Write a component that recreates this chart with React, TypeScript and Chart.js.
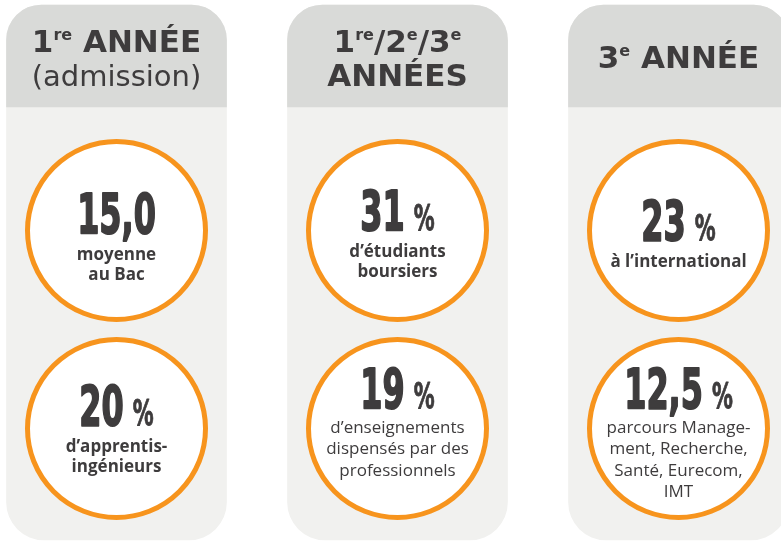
import React, { useEffect, useRef } from "react";
import { Chart, registerables } from "chart.js";

Chart.register(...registerables);

// ---- data ----
type Seg = { t: string; sup?: boolean; light?: boolean };
const columnTitles: Seg[][][] = [
  [[{ t: "1" }, { t: "re", sup: true }, { t: " ANNÉE" }], [{ t: "(admission)", light: true }]],
  [
    [{ t: "1" }, { t: "re", sup: true }, { t: "/2" }, { t: "e", sup: true }, { t: "/3" }, { t: "e", sup: true }],
    [{ t: "ANNÉES" }],
  ],
  [[{ t: "3" }, { t: "e", sup: true }, { t: " ANNÉE" }]],
];
const columnIndex = [0, 1, 2];

const statValues = [15.0, 20, 31, 19, 23, 12.5];
const statDecimals = [1, 0, 0, 0, 0, 1];
const statUnits = ["", "%", "%", "%", "%", "%"];
const statColumn = [0, 0, 1, 1, 2, 2];
const statRow = [0, 1, 0, 1, 0, 1];
const statCaptions = [
  ["moyenne", "au Bac"],
  ["d’apprentis-", "ingénieurs"],
  ["d’étudiants", "boursiers"],
  ["d’enseignements", "dispensés par des", "professionnels"],
  ["à l’international"],
  ["parcours Manage-", "ment, Recherche,", "Santé, Eurecom,", "IMT"],
];
const captionBold = [true, true, true, false, true, false];

// ---- layout / style (row & column units) ----
const PANEL_TOP = -1.139;
const PANEL_BOTTOM = 1.563;
const HEADER_BOTTOM = -0.624;
const X_MIN = -0.4146;
const X_MAX = 2.3648;
const Y_MIN = -1.1641;
const Y_MAX = 1.5682;
const numberNudge = [2.5, -3.5, -0.5, -10.5, 0, -0.5];

const TEXT = "#3e3c3d";
const ORANGE = "#f7941d";
const BODY = "#f1f1ef";
const HEAD = "#d9dad8";

function segFont(s: Seg) {
  if (s.sup) return "bold 16px 'DejaVu Sans'";
  if (s.light) return "29px 'DejaVu Sans'";
  return "bold 31px 'DejaVu Sans'";
}

function drawRichLine(ctx: CanvasRenderingContext2D, segs: Seg[], cx: number, baseline: number) {
  let total = 0;
  const widths = segs.map((s) => {
    ctx.font = segFont(s);
    const w = ctx.measureText(s.t).width;
    total += w;
    return w;
  });
  let x = cx - total / 2;
  segs.forEach((s, i) => {
    ctx.font = segFont(s);
    ctx.fillText(s.t, x, s.sup ? baseline - 12 : baseline);
    x += widths[i];
  });
}

const NUM_FONT = "bold 55px 'DejaVu Sans'";
const PCT_FONT = "bold 36px 'DejaVu Sans'";
const SX = 0.58;

const textPlugin = {
  id: "infoText",
  afterDatasetsDraw(chart: any) {
    const ctx: CanvasRenderingContext2D = chart.ctx;
    ctx.save();
    ctx.fillStyle = TEXT;
    ctx.strokeStyle = TEXT;
    ctx.lineJoin = "round";
    ctx.textAlign = "left";
    ctx.textBaseline = "alphabetic";

    const headerMeta = chart.getDatasetMeta(1);
    headerMeta.data.forEach((el: any, i: number) => {
      const { x, y, base } = el.getProps(["x", "y", "base"], true);
      const top = Math.min(y, base);
      const bottom = Math.max(y, base);
      const cy = (top + bottom) / 2;
      const lines = columnTitles[i];
      const baselines = lines.length === 1 ? [cy + 12] : [cy - 4, cy + 30];
      lines.forEach((segs, li) => drawRichLine(ctx, segs, x, baselines[li]));
    });

    const circleMeta = chart.getDatasetMeta(2);
    circleMeta.data.forEach((pt: any, i: number) => {
      const { x: cx, y: cy } = pt.getProps(["x", "y"], true);
      const caps = statCaptions[i];
      const n = caps.length;
      const numBase = cy + 10 - 10 * (n - 1) + numberNudge[i];
      const numStr = statValues[i].toFixed(statDecimals[i]).replace(".", ",");
      ctx.font = NUM_FONT;
      const wn = ctx.measureText(numStr).width * SX;
      let wp = 0;
      const gap = 9;
      if (statUnits[i]) {
        ctx.font = PCT_FONT;
        wp = ctx.measureText(statUnits[i]).width * SX;
      }
      const total = wn + (statUnits[i] ? gap + wp : 0);
      const sx = cx - total / 2;
      ctx.save();
      ctx.translate(sx, numBase);
      ctx.scale(SX, 1);
      ctx.font = NUM_FONT;
      ctx.lineWidth = 2;
      ctx.fillText(numStr, 0, 0);
      ctx.strokeText(numStr, 0, 0);
      ctx.restore();
      if (statUnits[i]) {
        ctx.save();
        ctx.translate(sx + wn + gap, numBase);
        ctx.scale(SX, 1);
        ctx.font = PCT_FONT;
        ctx.lineWidth = 1;
        ctx.fillText(statUnits[i], 0, 0);
        ctx.strokeText(statUnits[i], 0, 0);
        ctx.restore();
      }
      const bold = captionBold[i];
      ctx.font = bold ? "bold 17px 'Open Sans'" : "17px 'Open Sans'";
      ctx.textAlign = "center";
      const first = numBase + (bold ? 27 : 25);
      const step = bold ? 20 : 21.5;
      caps.forEach((line, li) => ctx.fillText(line, cx, first + li * step));
      ctx.textAlign = "left";
    });
    ctx.restore();
  },
};

export default function App() {
  const ref = useRef<HTMLCanvasElement>(null);
  useEffect(() => {
    if (!ref.current) return;
    const chart = new Chart(ref.current, {
      type: "bar",
      data: {
        datasets: [
          {
            type: "bar",
            label: "panels",
            data: columnIndex.map((c) => ({ x: c, y: [PANEL_TOP, PANEL_BOTTOM] })) as any,
            backgroundColor: BODY,
            borderWidth: 0,
            borderSkipped: false,
            borderRadius: { topLeft: 35, topRight: 35, bottomLeft: 38, bottomRight: 38 },
            barThickness: 220,
            grouped: false,
            order: 3,
          } as any,
          {
            type: "bar",
            label: "headers",
            data: columnIndex.map((c) => ({ x: c, y: [PANEL_TOP, HEADER_BOTTOM] })) as any,
            backgroundColor: HEAD,
            borderWidth: 0,
            borderSkipped: false,
            borderRadius: { topLeft: 35, topRight: 35, bottomLeft: 0, bottomRight: 0 },
            barThickness: 220,
            grouped: false,
            order: 2,
          } as any,
          {
            type: "scatter",
            label: "stats",
            data: statValues.map((_, i) => ({ x: statColumn[i], y: statRow[i] })),
            pointRadius: 89,
            pointHoverRadius: 89,
            pointBorderWidth: 5,
            pointHoverBorderWidth: 5,
            pointBackgroundColor: "#ffffff",
            pointBorderColor: ORANGE,
            pointStyle: "circle",
            showLine: false,
            clip: false,
            order: 1,
          } as any,
        ],
      },
      options: {
        animation: false,
        responsive: false,
        events: [],
        layout: { padding: 0, autoPadding: false },
        plugins: { legend: { display: false }, tooltip: { enabled: false } },
        scales: {
          x: { type: "linear", min: X_MIN, max: X_MAX, display: false, offset: false },
          y: { type: "linear", min: Y_MIN, max: Y_MAX, reverse: true, display: false },
        },
      },
      plugins: [textPlugin],
    });
    return () => chart.destroy();
  }, []);
  return (
    <div style={{ position: "absolute", left: 0, top: 0, width: 781, height: 541, background: "#fff" }}>
      <canvas ref={ref} width={781} height={541} style={{ display: "block" }} />
    </div>
  );
}
